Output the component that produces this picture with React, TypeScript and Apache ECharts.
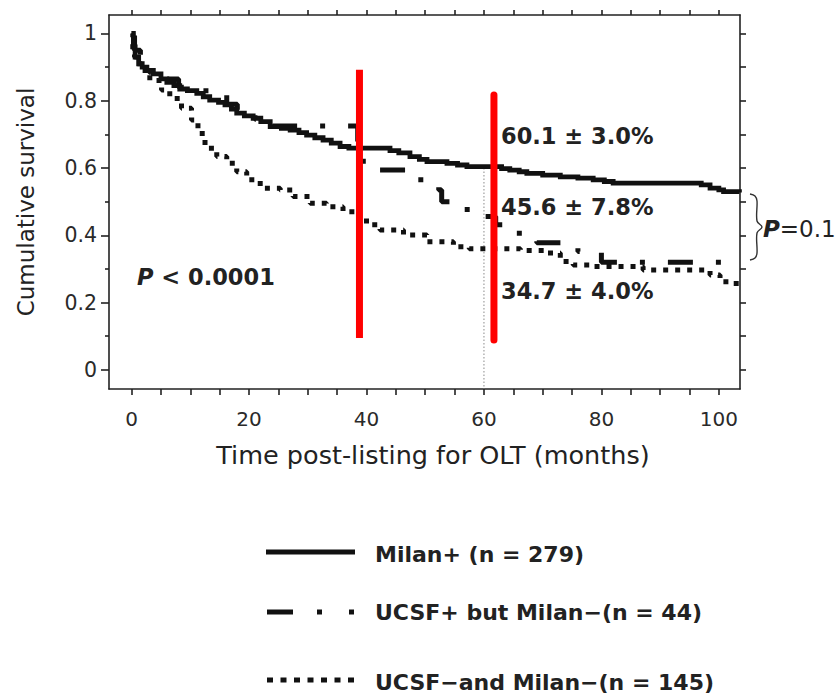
import React, { useEffect, useRef } from "react";
import * as echarts from "echarts";

// ---- Data ----
const milanPlusMonths = [0, 0.3, 0.6, 1.2, 1.8, 2.6, 3.7, 5, 6, 7.2, 8.2, 9.5, 11.1, 12.2, 13.3, 14.8, 15.9, 17, 17.9, 19.2, 20.7, 22, 23.6, 25.5, 27, 28.5, 29.8, 31.2, 32.6, 34, 35.5, 37, 44, 45.5, 47.4, 49, 50.3, 53.7, 55.5, 57.1, 63, 64.4, 66, 67.3, 70, 73, 76, 78.6, 80.5, 82, 97, 98.5, 100, 100.8, 103.5];
const milanPlusSurvival = [1.0, 0.96, 0.93, 0.91, 0.9, 0.89, 0.88, 0.865, 0.855, 0.845, 0.835, 0.83, 0.822, 0.812, 0.802, 0.795, 0.788, 0.775, 0.763, 0.755, 0.748, 0.738, 0.723, 0.718, 0.713, 0.705, 0.698, 0.69, 0.683, 0.674, 0.664, 0.659, 0.652, 0.645, 0.634, 0.626, 0.619, 0.614, 0.609, 0.604, 0.598, 0.594, 0.589, 0.584, 0.579, 0.574, 0.57, 0.565, 0.56, 0.555, 0.55, 0.54, 0.535, 0.53, 0.527];

const ucsfPlusMonths = [0, 0.5, 1.5, 3, 5, 8, 11, 16.2, 18, 21, 24, 38.5, 42.3, 48, 52.3, 52.8, 55.5, 59.5, 62, 65, 69, 76, 80, 103.5];
const ucsfPlusSurvival = [1.0, 0.95, 0.91, 0.885, 0.865, 0.84, 0.83, 0.79, 0.765, 0.745, 0.725, 0.62, 0.594, 0.565, 0.535, 0.5, 0.477, 0.456, 0.431, 0.406, 0.378, 0.352, 0.32, 0.32];

const ucsfMinusMonths = [0, 0.2, 0.5, 1.4, 3.1, 5.1, 6.5, 8.5, 10.2, 11.3, 12.5, 14.5, 16.2, 17.9, 19.6, 21.9, 25.3, 27.5, 30.4, 33.2, 36, 38.3, 40, 42.3, 46.3, 50.3, 54.8, 57.5, 66.2, 70.7, 73, 75.2, 78.6, 87.1, 98.5, 100.2, 102.5, 103.5];
const ucsfMinusSurvival = [1.0, 0.95, 0.93, 0.89, 0.86, 0.832, 0.807, 0.778, 0.743, 0.703, 0.659, 0.634, 0.614, 0.589, 0.565, 0.54, 0.535, 0.515, 0.495, 0.485, 0.47, 0.456, 0.431, 0.416, 0.401, 0.381, 0.366, 0.36, 0.355, 0.347, 0.322, 0.312, 0.307, 0.297, 0.282, 0.262, 0.257, 0.257];

const xTickValues = [0, 5, 10, 15, 20, 25, 30, 35, 40, 45, 50, 55, 60, 65, 70, 75, 80, 85, 90, 95, 100];
const xLabelValues = [0, 20, 40, 60, 80, 100];
const yMajorValues = [0, 0.2, 0.4, 0.6, 0.8, 1];
const yMinorValues = [0.1, 0.3, 0.5, 0.7, 0.9];
const yRightTickValues = [0, 0.1, 0.2, 0.3, 0.4, 0.5, 0.6, 0.7, 0.8, 0.9, 1];

const referenceMonth = 60;
const referenceTop = 0.6;
const redMarkerMonths = [38.8, 61.7];
const redMarkerTops = [0.892, 0.817];
const redMarkerBottoms = [0.095, 0.089];

const legendLabels = ["Milan+ (n = 279)", "UCSF+ but Milan\u2212(n = 44)", "UCSF\u2212and Milan\u2212(n = 145)"];
const survivalLabels = ["60.1 \u00b1 3.0%", "45.6 \u00b1 7.8%", "34.7 \u00b1 4.0%"];

const X_MIN = -3.85;
const X_MAX = 103.6;
const Y_MIN = -0.057;
const Y_MAX = 1.055;

const FONT = '"DejaVu Sans", "Liberation Sans", Arial, sans-serif';

function zip(t: number[], s: number[]) {
  return t.map((v, i) => [v, s[i]]);
}

export default function App() {
  const ref = useRef<HTMLDivElement>(null);

  useEffect(() => {
    if (!ref.current) return;
    const chart = echarts.init(ref.current, null, { renderer: "svg" });

    const axisLineStyle = { color: "#222", width: 1.6 };
    const tickStyle = { color: "#222", width: 1.6 };

    const option: any = {
      animation: false,
      backgroundColor: "#ffffff",
      grid: { left: 109, right: 99, top: 15, bottom: 309, containLabel: false },
      xAxis: [
        {
          type: "value",
          position: "bottom",
          min: X_MIN,
          max: X_MAX,
          splitLine: { show: false },
          axisLine: { show: true, onZero: false, lineStyle: axisLineStyle },
          axisTick: { show: true, customValues: xTickValues, length: 6, lineStyle: tickStyle },
          axisLabel: {
            show: true,
            customValues: xLabelValues,
            margin: 20,
            fontSize: 20,
            fontFamily: FONT,
            color: "#2a2a2a",
          },
          name: "Time post-listing for OLT (months)",
          nameLocation: "middle",
          nameGap: 53,
          nameTextStyle: { fontSize: 25.5, fontFamily: FONT, color: "#222", padding: [0, 0, 0, 17] },
        },
        {
          type: "value",
          position: "top",
          min: X_MIN,
          max: X_MAX,
          splitLine: { show: false },
          axisLine: { show: true, onZero: false, lineStyle: axisLineStyle },
          axisTick: { show: true, customValues: xTickValues, length: 5, lineStyle: tickStyle },
          axisLabel: { show: false },
        },
      ],
      yAxis: [
        {
          type: "value",
          position: "left",
          min: Y_MIN,
          max: Y_MAX,
          splitLine: { show: false },
          axisLine: { show: true, onZero: false, lineStyle: axisLineStyle },
          axisTick: { show: true, customValues: yMajorValues, length: 8, lineStyle: tickStyle },
          axisLabel: {
            show: true,
            customValues: yMajorValues,
            margin: 12,
            fontSize: 20.5,
            fontFamily: FONT,
            color: "#2a2a2a",
          },
          name: "Cumulative survival",
          nameLocation: "middle",
          nameGap: 72,
          nameTextStyle: { fontSize: 23, fontFamily: FONT, color: "#222" },
        },
        {
          type: "value",
          position: "left",
          min: Y_MIN,
          max: Y_MAX,
          splitLine: { show: false },
          axisLine: { show: false, onZero: false },
          axisTick: { show: true, customValues: yMinorValues, length: 4, lineStyle: tickStyle },
          axisLabel: { show: false },
        },
        {
          type: "value",
          position: "right",
          min: Y_MIN,
          max: Y_MAX,
          splitLine: { show: false },
          axisLine: { show: true, onZero: false, lineStyle: axisLineStyle },
          axisTick: { show: true, customValues: yRightTickValues, length: 6, lineStyle: tickStyle },
          axisLabel: { show: false },
        },
      ],
      series: [
        {
          name: "reference60",
          type: "line",
          data: [
            [referenceMonth, referenceTop],
            [referenceMonth, Y_MIN],
          ],
          symbol: "none",
          silent: true,
          lineStyle: { color: "#8a8a8a", width: 1, type: [1.5, 2] },
          z: 1,
        },
        {
          name: "UCSF- and Milan-",
          type: "line",
          step: "end",
          data: zip(ucsfMinusMonths, ucsfMinusSurvival),
          symbol: "none",
          lineStyle: { color: "#111", width: 5, type: [5, 7], cap: "butt" },
          z: 2,
        },
        {
          name: "UCSF+ but Milan-",
          type: "line",
          step: "end",
          data: zip(ucsfPlusMonths, ucsfPlusSurvival),
          symbol: "none",
          lineStyle: { color: "#111", width: 5, type: [25, 23, 5, 23], dashOffset: 71, cap: "butt" },
          z: 3,
        },
        {
          name: "Milan+",
          type: "line",
          step: "end",
          data: zip(milanPlusMonths, milanPlusSurvival),
          symbol: "none",
          lineStyle: { color: "#111", width: 4.8, cap: "butt", join: "miter" },
          z: 4,
        },
        ...redMarkerMonths.map((m, i) => ({
          name: "marker" + i,
          type: "line",
          data: [
            [m, redMarkerTops[i]],
            [m, redMarkerBottoms[i]],
          ],
          symbol: "none",
          silent: true,
          lineStyle: { color: "#ff0000", width: 7, cap: i === 0 ? "butt" : "round" },
          z: 10,
        })),
      ],
      graphic: [
        ...survivalLabels.map((t, i) => ({
          type: "text",
          x: 501,
          y: [136, 207, 291][i],
          z: 20,
          style: {
            text: t,
            font: `bold 22.5px ${FONT}`,
            fill: "#222",
            verticalAlign: "middle",
            align: "left",
          },
        })),
        {
          type: "text",
          x: 137,
          y: 277,
          z: 20,
          style: {
            text: "{p|P} < 0.0001",
            font: `bold 22.5px ${FONT}`,
            fill: "#222",
            verticalAlign: "middle",
            rich: { p: { fontStyle: "italic", fontWeight: "bold", fontSize: 22.5, fontFamily: FONT, fill: "#222" } },
          },
        },
        {
          type: "text",
          x: 763,
          y: 229,
          z: 20,
          style: {
            text: "{p|P}=0.1",
            font: `23px ${FONT}`,
            fill: "#222",
            verticalAlign: "middle",
            rich: { p: { fontStyle: "italic", fontWeight: "bold", fontSize: 23, fontFamily: FONT, fill: "#222" } },
          },
        },
        {
          type: "polyline",
          z: 20,
          shape: {
            points: [
              [750, 194],
              [755, 196],
              [757, 201],
              [757, 221],
              [762, 227],
              [757, 233],
              [757, 253],
              [755, 258],
              [750, 260],
            ],
            smooth: 0.35,
          },
          style: { stroke: "#333", lineWidth: 1.4, fill: null },
        },
        {
          type: "line",
          shape: { x1: 266, y1: 552, x2: 355, y2: 552 },
          style: { stroke: "#111", lineWidth: 5 },
        },
        { type: "rect", shape: { x: 267, y: 609.5, width: 26, height: 5 }, style: { fill: "#111" } },
        { type: "rect", shape: { x: 317, y: 609.5, width: 5, height: 5 }, style: { fill: "#111" } },
        { type: "rect", shape: { x: 349, y: 609.5, width: 5, height: 5 }, style: { fill: "#111" } },
        {
          type: "line",
          shape: { x1: 267, y1: 680, x2: 356, y2: 680 },
          style: { stroke: "#111", lineWidth: 5, lineDash: [6, 7.5] },
        },
        ...legendLabels.map((t, i) => ({
          type: "text",
          x: 375,
          y: [554, 612, 682][i],
          style: {
            text: t,
            font: `bold 22px ${FONT}`,
            fill: "#222",
            verticalAlign: "middle",
            align: "left",
          },
        })),
      ],
    };

    chart.setOption(option);
    return () => chart.dispose();
  }, []);

  return (
    <div
      ref={ref}
      style={{ position: "fixed", left: 0, top: 0, width: 839, height: 698, background: "#fff" }}
    />
  );
}
